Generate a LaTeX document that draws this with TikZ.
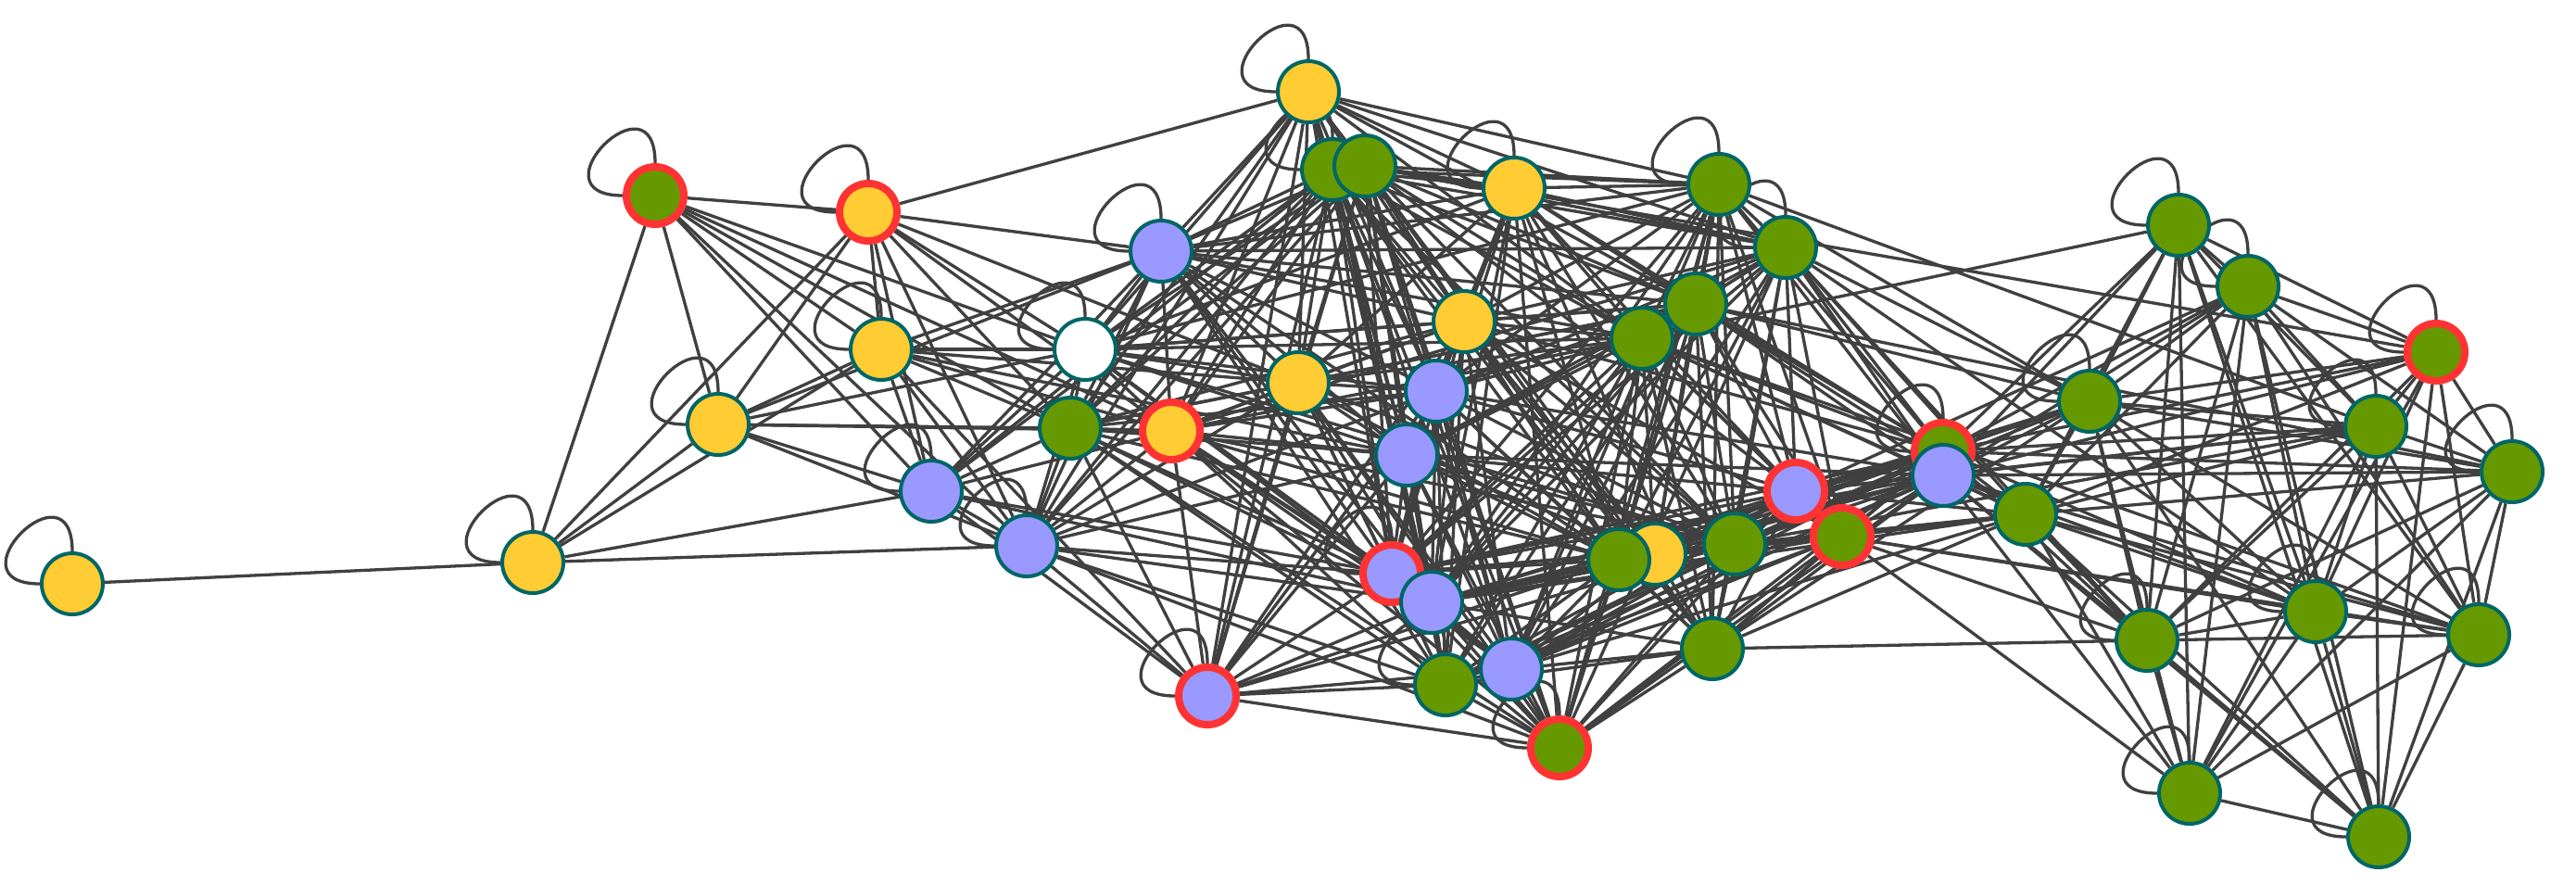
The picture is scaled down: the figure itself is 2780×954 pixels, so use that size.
\documentclass[tikz,border=0pt]{standalone}
\usetikzlibrary{backgrounds}
\definecolor{cy}{HTML}{FFCC33}
\definecolor{cg}{HTML}{669900}
\definecolor{cb}{HTML}{9999FF}
\definecolor{ct}{HTML}{006666}
\definecolor{cr}{HTML}{FF3333}
\definecolor{ce}{HTML}{404040}
\newcommand\myloop[1]{\draw[lnk] (#1.north) .. controls +(0,-100) and +(-100,0) .. (#1.west);}
\begin{document}
\begin{tikzpicture}[x=1pt,y=-1pt,
  vtx/.style={circle,draw=ct,line width=4pt,minimum size=66pt,inner sep=0pt},
  hot/.style={circle,draw=cr,line width=8pt,minimum size=62pt,inner sep=0pt},
  lnk/.style={draw=ce,line width=3.3pt}]
\useasboundingbox (0,0) rectangle (2780,954);
% nodes
\node[vtx,fill=cy] (n1) at (78,630) {};
\node[vtx,fill=cy] (n2) at (575,607) {};
\node[hot,fill=cg] (n3) at (707,211) {};
\node[vtx,fill=cy] (n4) at (775,458) {};
\node[hot,fill=cy] (n5) at (937,229) {};
\node[vtx,fill=cy] (n6) at (951,377) {};
\node[vtx,fill=cb] (n7) at (1005,530) {};
\node[vtx,fill=cb] (n8) at (1108,589) {};
\node[vtx,fill=white] (n9) at (1171,377) {};
\node[vtx,fill=cg] (n10) at (1155,462) {};
\node[vtx,fill=cb] (n11) at (1253,271) {};
\node[hot,fill=cy] (n12) at (1264,465) {};
\node[hot,fill=cb] (n13) at (1303,751) {};
\node[vtx,fill=cy] (n14) at (1412,99) {};
\node[vtx,fill=cg] (n15) at (1438,183) {};
\node[vtx,fill=cg] (n16) at (1473,179) {};
\node[vtx,fill=cy] (n17) at (1401,413) {};
\node[vtx,fill=cy] (n18) at (1634,203) {};
\node[vtx,fill=cy] (n19) at (1580,347) {};
\node[vtx,fill=cb] (n20) at (1550,422) {};
\node[vtx,fill=cb] (n21) at (1518,491) {};
\node[hot,fill=cb] (n22) at (1502,619) {};
\node[vtx,fill=cb] (n23) at (1545,650) {};
\node[vtx,fill=cg] (n24) at (1560,739) {};
\node[vtx,fill=cb] (n25) at (1631,722) {};
\node[hot,fill=cg] (n26) at (1683,807) {};
\node[vtx,fill=cg] (n27) at (1855,199) {};
\node[vtx,fill=cg] (n28) at (1927,267) {};
\node[vtx,fill=cg] (n29) at (1830,328) {};
\node[vtx,fill=cg] (n30) at (1772,365) {};
\node[vtx,fill=cy] (n32) at (1786,598) {};
\node[vtx,fill=cg] (n31) at (1747,604) {};
\node[vtx,fill=cg] (n33) at (1872,587) {};
\node[vtx,fill=cg] (n34) at (1848,700) {};
\node[hot,fill=cb] (n35) at (1938,530) {};
\node[hot,fill=cg] (n36) at (1988,579) {};
\node[hot,fill=cg] (n37) at (2097,487) {};
\node[vtx,fill=cb] (n38) at (2097,513) {};
\node[vtx,fill=cg] (n39) at (2186,555) {};
\node[vtx,fill=cg] (n40) at (2255,433) {};
\node[vtx,fill=cg] (n41) at (2351,243) {};
\node[vtx,fill=cg] (n42) at (2426,309) {};
\node[hot,fill=cg] (n43) at (2629,380) {};
\node[vtx,fill=cg] (n44) at (2564,460) {};
\node[vtx,fill=cg] (n45) at (2711,509) {};
\node[vtx,fill=cg] (n46) at (2317,691) {};
\node[vtx,fill=cg] (n47) at (2499,660) {};
\node[vtx,fill=cg] (n48) at (2675,685) {};
\node[vtx,fill=cg] (n49) at (2363,856) {};
\node[vtx,fill=cg] (n50) at (2567,903) {};
\begin{pgfonlayer}{background}
\fill[white] (0,0) rectangle (2780,954);
% self loops
\foreach \s in {1,2,3,4,5,6,7,8,9,11,13,14,15,18,22,24,26,27,28,37,40,41,42,43,44,45,46,47,48,49,50}
  {\myloop{n\s}}
% edges
\draw[lnk] (n1) -- (n2);
\foreach \t in {3,4,5,6,7,8} \draw[lnk] (n2) -- (n\t);
\foreach \t in {4,5,6,7,8,9,10,12} \draw[lnk] (n3) -- (n\t);
\foreach \t in {5,6,7,8,9,10,11,12} \draw[lnk] (n4) -- (n\t);
\foreach \t in {6,7,8,9,10,11,12,14,17} \draw[lnk] (n5) -- (n\t);
\foreach \t in {7,8,9,10,11,12,13,17,21} \draw[lnk] (n6) -- (n\t);
\foreach \t in {8,9,10,11,12,13,15,16,22,23} \draw[lnk] (n7) -- (n\t);
\foreach \t in {9,10,11,12,13,14,15,16,17,20,21,22,23,24,26} \draw[lnk] (n8) -- (n\t);
\foreach \t in {10,11,12,14,15,16,17,18,19,20,21,22,23,25,27,29,30,33} \draw[lnk] (n9) -- (n\t);
\foreach \t in {11,12,13,14,15,16,17,19,20,21,22,23,24,26,29,31} \draw[lnk] (n10) -- (n\t);
\foreach \t in {12,14,15,16,17,18,19,20,21,22,23,24,27,28,29,30,31} \draw[lnk] (n11) -- (n\t);
\foreach \t in {13,14,15,16,17,19,20,21,22,23,24,25,26,28,30,31,33} \draw[lnk] (n12) -- (n\t);
\foreach \t in {14,15,16,17,19,20,21,22,23,24,25,26,31,33} \draw[lnk] (n13) -- (n\t);
\foreach \t in {15,16,17,18,19,20,21,22,23,27,28,29,30} \draw[lnk] (n14) -- (n\t);
\foreach \t in {16,17,18,19,20,21,22,23,24,25,26,27,28,29,30,31,33,34} \draw[lnk] (n15) -- (n\t);
\foreach \t in {17,18,19,20,21,22,23,24,25,26,27,28,29,30,31,32,33,34,35,43} \draw[lnk] (n16) -- (n\t);
\foreach \t in {18,19,20,21,22,23,24,25,26,29,30,31,33} \draw[lnk] (n17) -- (n\t);
\foreach \t in {19,20,21,22,23,24,26,27,28,29,30,31,33,34,35,37} \draw[lnk] (n18) -- (n\t);
\foreach \t in {20,21,22,23,24,25,27,28,29,30,31,32,33,34,36,37} \draw[lnk] (n19) -- (n\t);
\foreach \t in {21,22,23,24,25,26,27,28,29,30,31,33,34,35,38} \draw[lnk] (n20) -- (n\t);
\foreach \t in {22,23,24,25,26,28,29,30,31,32,33,35,38} \draw[lnk] (n21) -- (n\t);
\foreach \t in {23,24,25,26,27,28,29,30,31,33,35,36,37,38} \draw[lnk] (n22) -- (n\t);
\foreach \t in {24,25,26,27,28,29,30,31,32,33,34,35,36,37,38,39} \draw[lnk] (n23) -- (n\t);
\foreach \t in {25,26,29,30,31,33,34,35,36,37,38} \draw[lnk] (n24) -- (n\t);
\foreach \t in {26,27,28,29,30,31,32,33,34,35,36,37,38,39} \draw[lnk] (n25) -- (n\t);
\foreach \t in {27,28,29,30,31,33,34,35,36,37,38} \draw[lnk] (n26) -- (n\t);
\foreach \t in {28,29,30,31,32,33,34,35,36,37,38,40,44} \draw[lnk] (n27) -- (n\t);
\foreach \t in {29,30,31,33,34,35,36,37,38,39,40,46,47} \draw[lnk] (n28) -- (n\t);
\foreach \t in {30,31,32,33,34,35,36,37,38,39,40,45} \draw[lnk] (n29) -- (n\t);
\foreach \t in {31,32,33,34,35,36,37,38,39,41,48} \draw[lnk] (n30) -- (n\t);
\foreach \t in {32,33,34,35,36,37,38,39,40} \draw[lnk] (n31) -- (n\t);
\foreach \t in {33,34,35,36,37,38} \draw[lnk] (n32) -- (n\t);
\foreach \t in {34,35,36,37,38,39,40,44} \draw[lnk] (n33) -- (n\t);
\foreach \t in {35,36,37,38,39,40,46} \draw[lnk] (n34) -- (n\t);
\foreach \t in {36,37,38,39,40,42,44} \draw[lnk] (n35) -- (n\t);
\foreach \t in {37,38,39,46,47,48,49} \draw[lnk] (n36) -- (n\t);
\foreach \t in {38,39,40,41,42,43,44,45,46,47} \draw[lnk] (n37) -- (n\t);
\foreach \t in {39,40,41,42,43,44,45,46,47,48,49,50} \draw[lnk] (n38) -- (n\t);
\foreach \t in {40,41,42,43,44,45,46,47,48,49,50} \draw[lnk] (n39) -- (n\t);
\foreach \t in {41,42,43,44,45,46,47,48,49,50} \draw[lnk] (n40) -- (n\t);
\foreach \t in {42,43,44,46,47,48,49,50} \draw[lnk] (n41) -- (n\t);
\foreach \t in {43,44,45,46,47,48,49,50} \draw[lnk] (n42) -- (n\t);
\foreach \t in {44,45,46,47,48,49,50} \draw[lnk] (n43) -- (n\t);
\foreach \t in {45,46,47,48,49,50} \draw[lnk] (n44) -- (n\t);
\foreach \t in {46,47,48,49,50} \draw[lnk] (n45) -- (n\t);
\foreach \t in {47,48,49,50} \draw[lnk] (n46) -- (n\t);
\foreach \t in {48,49,50} \draw[lnk] (n47) -- (n\t);
\foreach \t in {49,50} \draw[lnk] (n48) -- (n\t);
\draw[lnk] (n49) -- (n50);
\end{pgfonlayer}
\end{tikzpicture}
\end{document}
